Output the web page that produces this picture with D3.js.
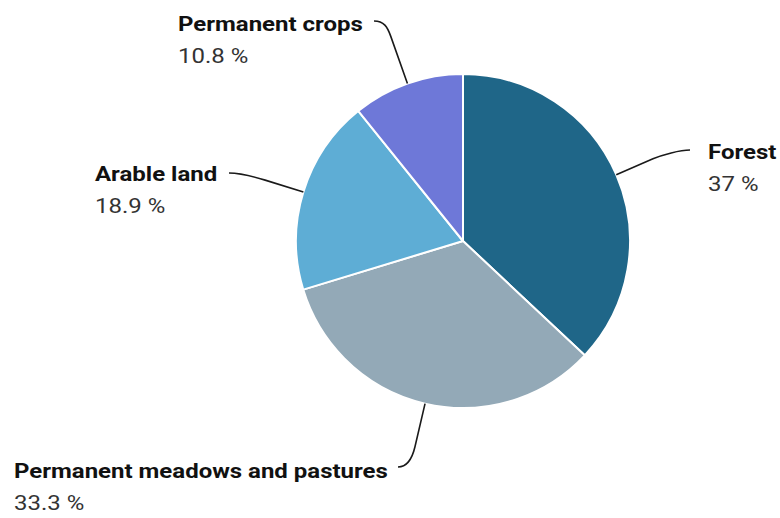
<!DOCTYPE html>
<html>
<head>
<meta charset="utf-8">
<script src="https://cdn.jsdelivr.net/npm/d3@7"></script>
<style>
  html, body { margin: 0; padding: 0; background: #fff; }
  svg { display: block; font-family: Roboto, "Noto Sans", sans-serif; }
</style>
</head>
<body>
<svg id="chart" width="780" height="518"></svg>
<script>
// Land use shares (percent of total area)
const categories = ["Forest", "Permanent meadows and pastures", "Arable land", "Permanent crops"];
const values = [37, 33.3, 18.9, 10.8];
const colors = ["#1f6688", "#93a9b7", "#5eadd5", "#6e78d8"];

// Label placement: text origin, connector end next to the text, break distance from the rim
const labelLayout = [
  { tx: 708, ty: 159, end: [690, 150], side: "right", brk: 40 },
  { tx: 14,  ty: 478, end: [398, 467], side: "left",  brk: 44 },
  { tx: 95,  ty: 181, end: [229, 173], side: "left",  brk: 40 },
  { tx: 178, ty: 31,  end: [374, 21],  side: "left",  brk: 50 }
];

const svg = d3.select("#chart");
const cx = 463, cy = 241, radius = 167;

const pie = d3.pie().sort(null).value(d => d.value);
const data = pie(categories.map((c, i) => ({ name: c, value: values[i], i })));
const arc = d3.arc().innerRadius(0).outerRadius(radius);

const g = svg.append("g").attr("transform", `translate(${cx},${cy})`);

g.selectAll("path.slice")
  .data(data)
  .join("path")
  .attr("class", "slice")
  .attr("d", arc)
  .attr("fill", d => colors[d.data.i])
  .attr("stroke", "#ffffff")
  .attr("stroke-width", 2)
  .attr("stroke-linejoin", "round");

// Connectors: straight radial segment from the rim, then a soft hook into the label
const connectors = svg.append("g");
data.forEach(d => {
  const L = labelLayout[d.data.i];
  const mid = (d.startAngle + d.endAngle) / 2;
  const dx = Math.sin(mid), dy = -Math.cos(mid);
  const px = cx + radius * dx, py = cy + radius * dy;
  const bx = px + L.brk * dx, by = py + L.brk * dy;
  const [ex, ey] = L.end;
  const hx = L.side === "left" ? 10 : -10;
  const p = d3.path();
  p.moveTo(ex, ey);
  p.bezierCurveTo(ex + hx, ey, bx + dx * 10, by + dy * 10, bx, by);
  p.lineTo(px, py);
  connectors.append("path")
    .attr("d", p.toString())
    .attr("fill", "none")
    .attr("stroke", "#1a1a1a")
    .attr("stroke-width", 1.6);
});

// Labels: category name (bold) with the share underneath, set in a wide face
const labels = svg.append("g");
data.forEach(d => {
  const L = labelLayout[d.data.i];
  const t = labels.append("text")
    .attr("transform", `translate(${L.tx},${L.ty}) scale(1.2,1)`)
    .attr("font-size", 20);
  t.append("tspan")
    .attr("x", 0)
    .attr("font-weight", "bold")
    .attr("fill", "#111")
    .text(d.data.name);
  t.append("tspan")
    .attr("x", 0)
    .attr("dy", 32)
    .attr("fill", "#333")
    .text(`${d.data.value} %`);
});
</script>
</body>
</html>
